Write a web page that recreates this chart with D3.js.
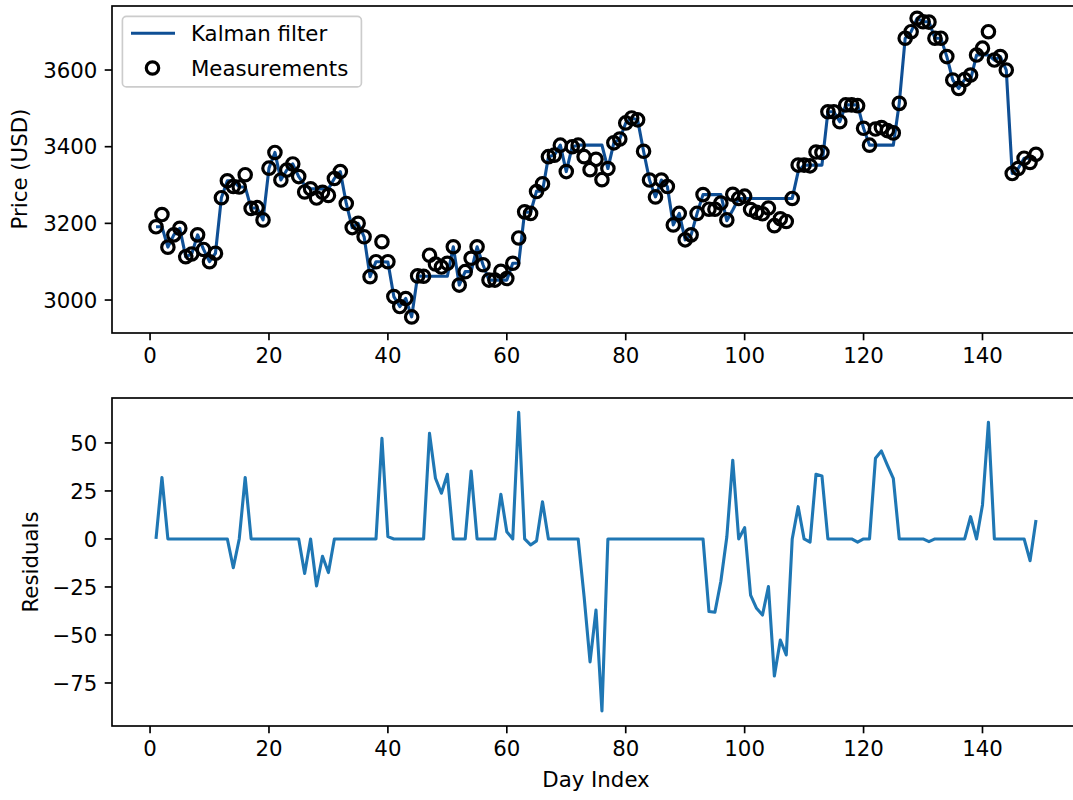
<!DOCTYPE html>
<html><head><meta charset="utf-8">
<script src="https://cdn.jsdelivr.net/npm/d3@7"></script>
<style>body{margin:0;background:#fff;overflow:hidden}</style>
</head><body>
<svg id="c" width="1073" height="800"></svg>
<script>
// ---- data ----
const dayIndex = d3.range(1, 150);
const kalmanFilter = [3191,3191,3138,3170,3187,3113,3120,3170,3132,3100,3122,3267,3311,3311,3295,3295,3239,3241,3209,3344,
3385,3313,3339,3355,3322,3300,3290,3290,3290,3290,3317,3335,3252,3189,3200,3165,3061,3100,3100,3099,
3009,2983,3004,2956,3063,3062,3062,3062,3062,3062,3139,3039,3074,3074,3139,3092,3052,3052,3052,3052,
3096,3096,3230,3229,3284,3284,3374,3378,3404,3335,3400,3404,3404,3404,3404,3404,3343,3410,3420,3462,
3475,3470,3388,3313,3269,3313,3296,3196,3226,3157,3170,3226,3275,3275,3275,3275,3207,3235,3265,3265,
3265,3265,3265,3265,3265,3265,3265,3265,3335,3352,3352,3352,3352,3491,3491,3465,3509,3509,3509,3448,
3404,3404,3404,3404,3404,3513,3683,3700,3735,3726,3726,3683,3683,3635,3574,3552,3575,3575,3639,3639,
3639,3626,3635,3600,3330,3343,3370,3370,3370];
const measurements = [3191,3223,3138,3170,3187,3113,3120,3170,3132,3100,3122,3267,3311,3296,3295,3327,3239,3241,3209,3344,
3385,3313,3339,3355,3322,3282,3290,3266,3281,3273,3317,3335,3252,3189,3200,3165,3061,3100,3152,3100,
3009,2983,3004,2956,3063,3062,3117,3094,3086,3096,3139,3039,3074,3109,3139,3092,3052,3052,3075,3056,
3096,3162,3230,3226,3283,3303,3374,3378,3404,3335,3400,3404,3374,3340,3367,3314,3343,3410,3420,3462,
3475,3470,3388,3313,3269,3313,3296,3196,3226,3157,3170,3226,3275,3237,3237,3253,3209,3276,3265,3271,
3236,3229,3225,3240,3194,3212,3205,3265,3352,3352,3350,3386,3385,3491,3491,3465,3509,3509,3507,3448,
3404,3446,3450,3442,3436,3513,3683,3700,3735,3726,3725,3683,3683,3635,3574,3552,3575,3587,3639,3657,
3700,3626,3635,3600,3330,3343,3370,3359,3380];
const residuals = [0,32,0,0,0,0,0,0,0,0,0,0,0,-15,0,32,0,0,0,0,
0,0,0,0,0,-18,0,-24.5,-9,-17.5,0,0,0,0,0,0,0,0,52.4,1.2,
0,0,0,0,0,0,55,31.6,23.8,33.7,0,0,0,35.4,0,0,0,0,23.3,3.8,
0,66,0,-3.1,-1,19.4,0,0,0,0,0,0,-30,-64,-37,-89.6,0,0,0,0,
0,0,0,0,0,0,0,0,0,0,0,0,0,-37.8,-38.2,-22,1,41,0,5.9,
-29.2,-36.1,-39.6,-24.8,-71.4,-52.6,-60.4,0,16.8,0,-1.6,33.7,32.8,0,0,0,0,0,-1.7,0,
0,42,45.8,38.5,31.6,0,0,0,0,0,-1.4,0,0,0,0,0,0,11.6,0,17.7,
60.8,0,0,0,0,0,0,-11.3,9.9];
const xTickValues = [0,20,40,60,80,100,120,140];
const priceTickValues = [3000,3200,3400,3600];
const residualTickValues = [-75,-50,-25,0,25,50];

// ---- layout ----
const FONT = "DejaVu Sans, sans-serif";
const FS = 21.3;
const svg = d3.select("#c");
const L = 112, R = 1080;
const top1 = 6, bot1 = 333, top2 = 398, bot2 = 726;
const TL = 7.3, PAD = 7.3, SW = 1.67;

const x = d3.scaleLinear().domain([-6.4, 156.4]).range([L, R]);
const y1 = d3.scaleLinear().domain([2914, 3767]).range([bot1, top1]);
const y2 = d3.scaleLinear().domain([-97.4, 73.4]).range([bot2, top2]);

svg.append("rect").attr("width",1073).attr("height",800).attr("fill","#fff");
const defs = svg.append("defs");
defs.append("clipPath").attr("id","cp1").append("rect").attr("x",L).attr("y",top1).attr("width",R-L).attr("height",bot1-top1);
defs.append("clipPath").attr("id","cp2").append("rect").attr("x",L).attr("y",top2).attr("width",R-L).attr("height",bot2-top2);

function axes(yScale, ticks, yt, yb, fmt){
  const g = svg.append("g");
  xTickValues.forEach(v=>{
    const xv = x(v);
    g.append("line").attr("x1",xv).attr("x2",xv).attr("y1",yb).attr("y2",yb+TL).attr("stroke","#000").attr("stroke-width",SW);
    g.append("text").attr("x",xv).attr("y",yb+TL+PAD+15.6).attr("text-anchor","middle")
      .attr("font-family",FONT).attr("font-size",FS).attr("fill","#000").text(v);
  });
  ticks.forEach(v=>{
    const yv = yScale(v);
    g.append("line").attr("x1",L-TL).attr("x2",L).attr("y1",yv).attr("y2",yv).attr("stroke","#000").attr("stroke-width",SW);
    g.append("text").attr("x",L-TL-PAD).attr("y",yv+7.7).attr("text-anchor","end")
      .attr("font-family",FONT).attr("font-size",FS).attr("fill","#000").text(fmt(v));
  });
  g.append("rect").attr("x",L).attr("y",yt).attr("width",R-L).attr("height",yb-yt)
    .attr("fill","none").attr("stroke","#000").attr("stroke-width",SW);
}
const minus = v => (v<0 ? "\u2212"+Math.abs(v) : String(v));

// top panel
const p1 = svg.append("g").attr("clip-path","url(#cp1)");
p1.append("path").datum(dayIndex.map((d,i)=>[d,kalmanFilter[i]]))
  .attr("d", d3.line().x(d=>x(d[0])).y(d=>y1(d[1])))
  .attr("fill","none").attr("stroke","#0f4f95").attr("stroke-width",3.1).attr("stroke-linejoin","round");
p1.selectAll("circle.m").data(dayIndex.map((d,i)=>[d,measurements[i]])).enter().append("circle")
  .attr("cx",d=>x(d[0])).attr("cy",d=>y1(d[1])).attr("r",6.2)
  .attr("fill","none").attr("stroke","#000").attr("stroke-width",3.2);
axes(y1, priceTickValues, top1, bot1, String);

// bottom panel
const p2 = svg.append("g").attr("clip-path","url(#cp2)");
p2.append("path").datum(dayIndex.map((d,i)=>[d,residuals[i]]))
  .attr("d", d3.line().x(d=>x(d[0])).y(d=>y2(d[1])))
  .attr("fill","none").attr("stroke","#1f77b4").attr("stroke-width",3.1).attr("stroke-linejoin","round");
axes(y2, residualTickValues, top2, bot2, minus);

// axis labels
svg.append("text").attr("transform","translate(27,169) rotate(-90)").attr("text-anchor","middle")
  .attr("font-family",FONT).attr("font-size",FS).text("Price (USD)");
svg.append("text").attr("transform","translate(38,562) rotate(-90)").attr("text-anchor","middle")
  .attr("font-family",FONT).attr("font-size",FS).text("Residuals");
svg.append("text").attr("x",(L+R)/2).attr("y",787).attr("text-anchor","middle")
  .attr("font-family",FONT).attr("font-size",FS).text("Day Index");

// legend
const lg = svg.append("g");
lg.append("rect").attr("x",122.4).attr("y",16.4).attr("width",239).attr("height",70.5).attr("rx",4)
  .attr("fill","#fff").attr("fill-opacity",0.8).attr("stroke","#cccccc").attr("stroke-width",1.67);
lg.append("line").attr("x1",131).attr("x2",175).attr("y1",33.3).attr("y2",33.3).attr("stroke","#0f4f95").attr("stroke-width",3.1);
lg.append("circle").attr("cx",152.5).attr("cy",68).attr("r",6.2).attr("fill","none").attr("stroke","#000").attr("stroke-width",3.2);
lg.append("text").attr("x",191).attr("y",33.3+7.7).attr("font-family",FONT).attr("font-size",FS).text("Kalman filter");
lg.append("text").attr("x",191).attr("y",68+7.7).attr("font-family",FONT).attr("font-size",FS).text("Measurements");
</script>
</body></html>
